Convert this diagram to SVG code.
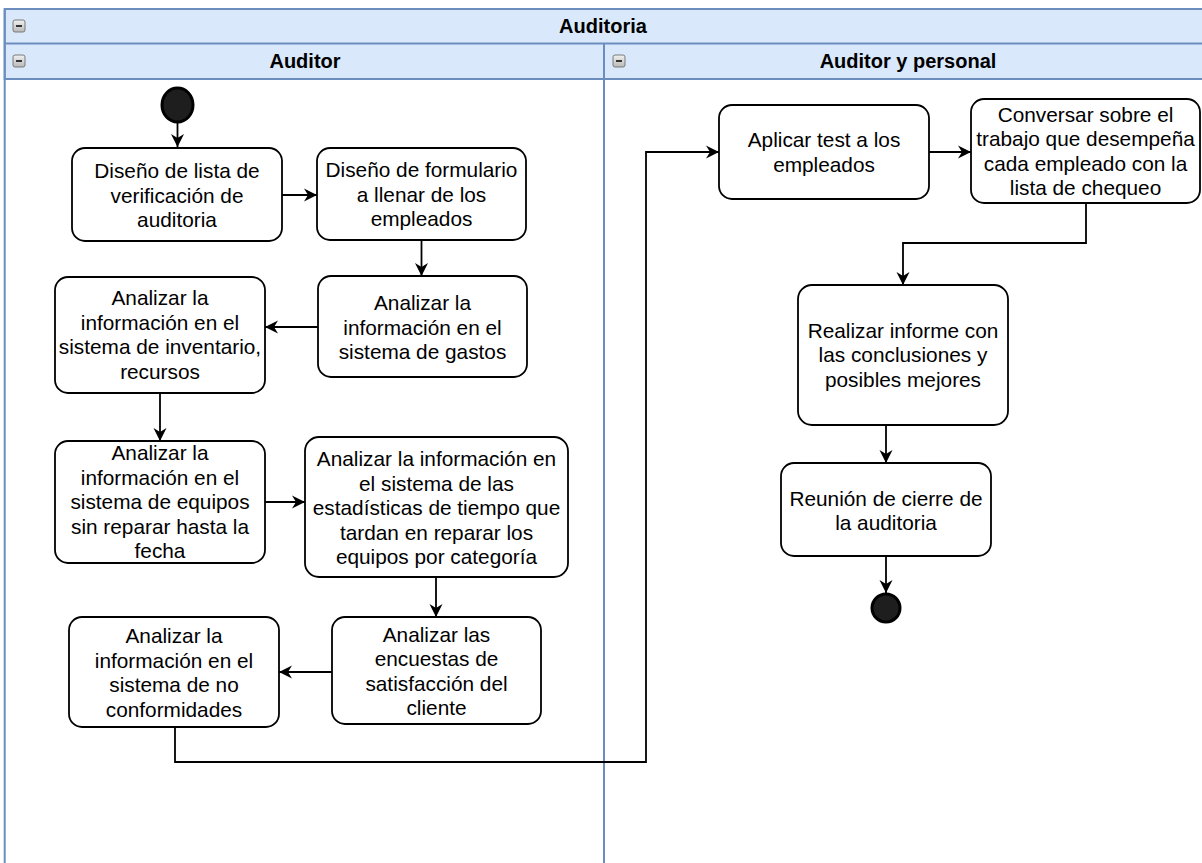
<svg xmlns="http://www.w3.org/2000/svg" width="1202" height="863" viewBox="0 0 1202 863">
<defs>
<style>
.lane{fill:#dae8fc;stroke:#6c8ebf;stroke-width:2}
.div{fill:none;stroke:#6c8ebf;stroke-width:2}
.box{fill:#ffffff;stroke:#000000;stroke-width:1.8}
.t{font-family:"Liberation Sans",Arial,Helvetica,sans-serif;font-size:20.8px;fill:#000;text-anchor:middle}
.h{font-family:"Liberation Sans",Arial,Helvetica,sans-serif;font-size:20px;font-weight:bold;fill:#000;text-anchor:middle}
.c{fill:none;stroke:#000;stroke-width:1.8}
.ico{fill:url(#icog);stroke:#7a7a7a;stroke-width:1}
.icm{stroke:#333;stroke-width:2}
.dot{fill:#1e1e1e;stroke:#000;stroke-width:3}
</style>
<linearGradient id="icog" x1="0" y1="0" x2="0" y2="1">
<stop offset="0" stop-color="#f2f2f2"/>
<stop offset="1" stop-color="#b8b8b8"/>
</linearGradient>
<marker id="arr" markerUnits="userSpaceOnUse" markerWidth="14" markerHeight="14" viewBox="0 0 14 14" refX="13" refY="7" orient="auto">
<path d="M0,0.5 L13,7 L0,13.5 L4,7 z" fill="#000"/>
</marker>
</defs>

<g id="pool">
<rect class="lane" x="4.7" y="9" width="1220" height="70"/>
<line class="div" x1="4.7" y1="43.5" x2="1210" y2="43.5"/>
<line class="div" x1="4.7" y1="9" x2="4.7" y2="870"/>
<line class="div" x1="604" y1="43.5" x2="604" y2="870"/>
<text class="h" x="603" y="33">Auditoria</text>
<text class="h" x="305" y="68">Auditor</text>
<text class="h" x="908" y="68">Auditor y personal</text>
<rect class="ico" x="13" y="20" width="12" height="12" rx="2"/>
<line class="icm" x1="16" y1="26" x2="22" y2="26"/>
<rect class="ico" x="13" y="55" width="12" height="12" rx="2"/>
<line class="icm" x1="16" y1="61" x2="22" y2="61"/>
<rect class="ico" x="613" y="55" width="12" height="12" rx="2"/>
<line class="icm" x1="616" y1="61" x2="622" y2="61"/>
</g>

<g id="connectors">
<path class="c" d="M177.5,123 V147" marker-end="url(#arr)"/>
<path class="c" d="M282,195 H317" marker-end="url(#arr)"/>
<path class="c" d="M421.5,240 V276" marker-end="url(#arr)"/>
<path class="c" d="M318,327 H265" marker-end="url(#arr)"/>
<path class="c" d="M160,393 V441" marker-end="url(#arr)"/>
<path class="c" d="M265,502 H305" marker-end="url(#arr)"/>
<path class="c" d="M436,577 V617" marker-end="url(#arr)"/>
<path class="c" d="M332,672 H279" marker-end="url(#arr)"/>
<path class="c" d="M175,727 V762 H646 V152 H719" marker-end="url(#arr)"/>
<path class="c" d="M929,152 H971" marker-end="url(#arr)"/>
<path class="c" d="M1086,203 V243 H903 V285" marker-end="url(#arr)"/>
<path class="c" d="M886,425 V463" marker-end="url(#arr)"/>
<path class="c" d="M886,556 V593" marker-end="url(#arr)"/>
</g>

<g id="start"><ellipse class="dot" cx="177.5" cy="105" rx="15.5" ry="17"/></g>

<g id="n1"><rect class="box" x="72" y="148" width="210" height="93" rx="13"/>
<text class="t" x="177" y="178">Diseño de lista de<tspan x="177" y="202.5">verificación de</tspan><tspan x="177" y="227">auditoria</tspan></text></g>

<g id="n2"><rect class="box" x="317" y="148" width="209" height="92" rx="13"/>
<text class="t" x="421.5" y="177">Diseño de formulario<tspan x="421.5" y="201.5">a llenar de los</tspan><tspan x="421.5" y="226">empleados</tspan></text></g>

<g id="n3"><rect class="box" x="318" y="276" width="209" height="101" rx="13"/>
<text class="t" x="422.5" y="310">Analizar la<tspan x="422.5" y="334.5">información en el</tspan><tspan x="422.5" y="359">sistema de gastos</tspan></text></g>

<g id="n4"><rect class="box" x="55" y="277" width="210" height="116" rx="13"/>
<text class="t" x="160" y="305">Analizar la<tspan x="160" y="329.5">información en el</tspan><tspan x="160" y="354">sistema de inventario,</tspan><tspan x="160" y="378.5">recursos</tspan></text></g>

<g id="n5"><rect class="box" x="55" y="441" width="210" height="122" rx="13"/>
<text class="t" x="160" y="460">Analizar la<tspan x="160" y="484.5">información en el</tspan><tspan x="160" y="509">sistema de equipos</tspan><tspan x="160" y="533.5">sin reparar hasta la</tspan><tspan x="160" y="558">fecha</tspan></text></g>

<g id="n6"><rect class="box" x="305" y="437" width="263" height="140" rx="14"/>
<text class="t" x="436.5" y="466">Analizar la información en<tspan x="436.5" y="490.5">el sistema de las</tspan><tspan x="436.5" y="515">estadísticas de tiempo que</tspan><tspan x="436.5" y="539.5">tardan en reparar los</tspan><tspan x="436.5" y="564">equipos por categoría</tspan></text></g>

<g id="n7"><rect class="box" x="332" y="617" width="209" height="107" rx="13"/>
<text class="t" x="436.5" y="641.5">Analizar las<tspan x="436.5" y="666">encuestas de</tspan><tspan x="436.5" y="690.5">satisfacción del</tspan><tspan x="436.5" y="715">cliente</tspan></text></g>

<g id="n8"><rect class="box" x="69" y="617" width="210" height="110" rx="13"/>
<text class="t" x="174" y="643">Analizar la<tspan x="174" y="667.5">información en el</tspan><tspan x="174" y="692">sistema de no</tspan><tspan x="174" y="716.5">conformidades</tspan></text></g>

<g id="n9"><rect class="box" x="719" y="105" width="210" height="94" rx="13"/>
<text class="t" x="824" y="147">Aplicar test a los<tspan x="824" y="171.5">empleados</tspan></text></g>

<g id="n10"><rect class="box" x="971" y="99" width="229" height="104" rx="13"/>
<text class="t" x="1085.5" y="121.5">Conversar sobre el<tspan x="1085.5" y="146">trabajo que desempeña</tspan><tspan x="1085.5" y="170.5">cada empleado con la</tspan><tspan x="1085.5" y="195">lista de chequeo</tspan></text></g>

<g id="n11"><rect class="box" x="798" y="285" width="210" height="140" rx="14"/>
<text class="t" x="903" y="337.5">Realizar informe con<tspan x="903" y="362">las conclusiones y</tspan><tspan x="903" y="386.5">posibles mejores</tspan></text></g>

<g id="n12"><rect class="box" x="781" y="463" width="210" height="93" rx="13"/>
<text class="t" x="886" y="505.5">Reunión de cierre de<tspan x="886" y="530">la auditoria</tspan></text></g>

<g id="end"><circle class="dot" cx="886" cy="608" r="14"/></g>
</svg>
